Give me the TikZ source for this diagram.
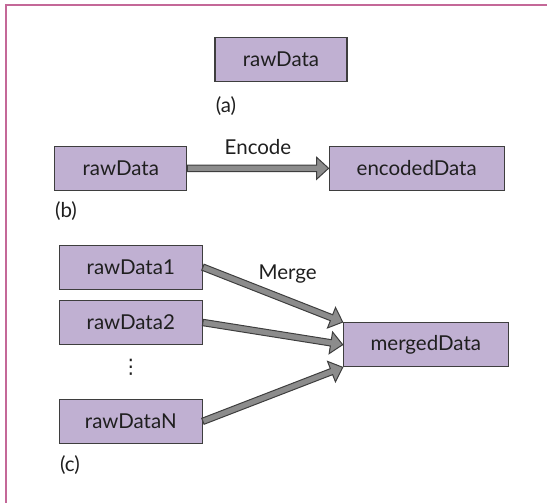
\documentclass[tikz,border=0pt]{standalone}
\usepackage{fontspec}
\setmainfont{Lato}
\newfontfamily\symfont{DejaVu Sans}
\usetikzlibrary{calc}

\definecolor{boxfill}{RGB}{192,176,210}
\definecolor{boxline}{RGB}{62,62,62}
\definecolor{arrowfill}{RGB}{140,140,140}
\definecolor{framepink}{RGB}{196,104,152}

% thick outlined arrow from one node anchor to another
\newcommand{\fatarrow}[2]{%
  \draw [fatarrow] let \p1=(#1), \p2=(#2),
    \n1={atan2(\y2-\y1,\x2-\x1)}, \n2={veclen(\x2-\x1,\y2-\y1)} in
    [shift={(\p1)}, rotate=\n1]
    (0pt,-3.2pt) -- (\n2-12pt,-3.2pt) -- (\n2-12pt,-11pt) -- (\n2+0pt,0pt)
    -- (\n2-12pt,11pt) -- (\n2-12pt,3.2pt) -- (0pt,3.2pt) -- cycle;}

\begin{document}
\begin{tikzpicture}[x=1pt, y=-1pt,
    databox/.style={draw=boxline, fill=boxfill, line width=1.2pt,
      minimum height=44pt, inner sep=0pt},
    fatarrow/.style={draw=boxline, fill=arrowfill, line width=1pt, line join=miter}]
        \tikzstyle{every node}+=[font=\fontsize{20.5}{24}\selectfont, text=black!88]
        \useasboundingbox (0,0) rectangle (547,503);
        \draw [framepink, line width=2pt] (5.5,503) -- (5.5,5.5) -- (547,5.5);
        % (a)
        \node [databox, minimum width=132pt] (rawa) at (281,59.7) {rawData};
        \node (lbla) at (226,106) {(a)};
        % (b)
        \node [databox, minimum width=132pt] (rawb) at (120.8,168.3) {rawData};
        \node [databox, minimum width=175pt] (enc) at (416.7,168.3) {encodedData};
        \node (encode) at (258,146.7) {Encode};
        \fatarrow{rawb.east}{enc.west}
        \node (lblb) at (66,211) {(b)};
        % (c)
        \node [databox, minimum width=143pt] (raw1) at (130.8,267.2) {rawData1};
        \node [databox, minimum width=143pt] (raw2) at (130.8,322.5) {rawData2};
        \node [font=\symfont\fontsize{20}{24}\selectfont] (dots) at (130.8,367) {⋮};
        \node [databox, minimum width=143pt] (rawn) at (130.8,421.3) {rawDataN};
        \node [databox, minimum width=165pt] (merged) at (425.8,344.7) {mergedData};
        \node (merge) at (287.7,274) {Merge};
        \fatarrow{raw1.east}{merged.north west}
        \fatarrow{raw2.east}{merged.west}
        \fatarrow{rawn.east}{merged.south west}
        \node (lblc) at (70,465) {(c)};
\end{tikzpicture}
\end{document}
